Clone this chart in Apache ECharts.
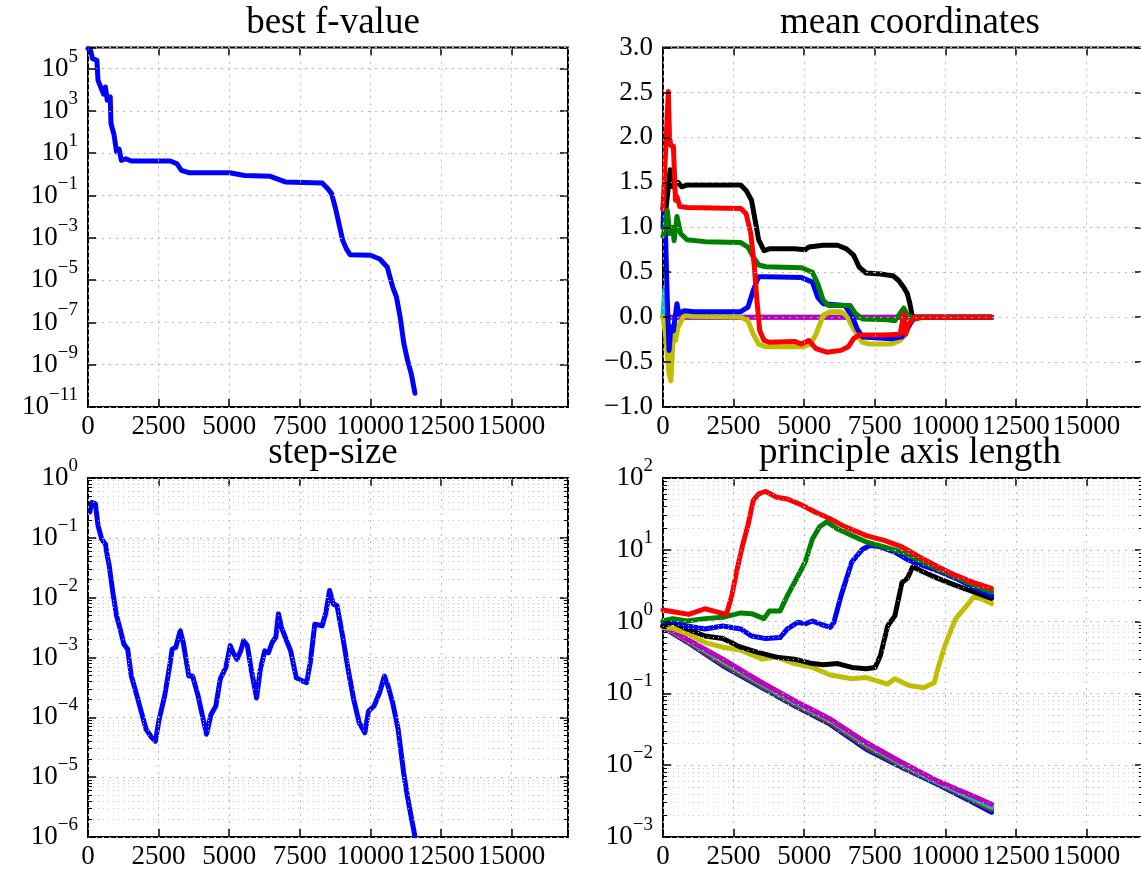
<!DOCTYPE html>
<html><head><meta charset="utf-8">
<script src="https://cdn.jsdelivr.net/npm/echarts@6/dist/echarts.min.js"></script>
<style>html,body{margin:0;padding:0;background:#fff}#c{width:1141px;height:873px}</style>
</head><body><div id="c"></div>
<script>
// ---------------- DATA ----------------
const titles = ['best f-value', 'mean coordinates', 'step-size', 'principle axis length'];
const xTickLabels = ['0', '2500', '5000', '7500', '10000', '12500', '15000'];

// best f-value  [evaluations, f]
const bestF = [[0,8.9e5],[92,7.4e5],[158,3.0e5],[315,2.5e5],[354,2.8e4],[551,6.3e3],[617,1.35e4],[682,3.2e3],[787,4.6e3],[814,2.5e2],[919,79],[1011,11.5],[1102,15.8],[1181,4.6],[1339,5.5],[1536,4.3],[2914,4.3],[3150,3.2],[3308,1.55],[3570,1.2],[5014,1.2],[5540,0.89],[6459,0.81],[6984,0.44],[8297,0.39],[8494,0.21],[8626,0.123],[8757,2.8e-2],[8888,4.7e-3],[9020,7.6e-4],[9151,3.0e-4],[9282,1.6e-4],[10004,1.5e-4],[10333,1.0e-4],[10596,4.2e-5],[10793,4.7e-6],[10924,1.6e-6],[11055,1.8e-7],[11187,1.0e-8],[11318,1.6e-9],[11449,3.7e-10],[11580,4.5e-11]];

// mean coordinates
const meanCyan = [[0,0],[60,0.3],[120,0],[11637,0]];
const meanMagenta = [[0,0],[100,-0.05],[200,0],[11637,0]];
const meanYellow = [[0,0],[89,-0.19],[216,-0.63],[279,-0.71],[368,-0.19],[444,-0.26],[533,-0.11],[749,0.02],[1003,0.01],[2754,0],[3008,-0.04],[3198,-0.19],[3388,-0.3],[3642,-0.33],[4911,-0.33],[5229,-0.3],[5419,-0.19],[5672,0.02],[5926,0.06],[6307,0.06],[6497,0.02],[6751,-0.13],[7068,-0.28],[7322,-0.3],[8084,-0.3],[8401,-0.26],[8592,-0.19],[8782,-0.04],[8972,0],[11637,0]];
const meanBlack = [[0,1.2],[25,1.3],[89,1.15],[190,1.45],[254,1.64],[343,1.45],[533,1.5],[660,1.45],[850,1.47],[2754,1.47],[2944,1.41],[3135,1.3],[3262,1.08],[3388,0.86],[3579,0.74],[3769,0.76],[4657,0.76],[5038,0.75],[5165,0.78],[5672,0.8],[6180,0.8],[6497,0.76],[6751,0.69],[6942,0.56],[7195,0.49],[7703,0.48],[8147,0.46],[8338,0.41],[8528,0.33],[8655,0.26],[8744,0.15],[8820,0.02],[8909,0],[11637,0]];
const meanBlue = [[0,1.0],[25,1.23],[89,0.93],[152,0.19],[216,-0.37],[279,-0.11],[368,-0.15],[495,0.15],[559,0.04],[749,0.07],[1104,0.06],[2754,0.06],[3008,0.11],[3198,0.3],[3388,0.45],[3642,0.45],[4911,0.44],[5292,0.39],[5482,0.22],[5672,0.15],[6434,0.13],[6688,0.02],[6878,-0.13],[7068,-0.22],[8084,-0.24],[8465,-0.22],[8655,-0.13],[8846,-0.03],[9036,0],[11637,0]];
const meanGreen = [[0,0.9],[25,0.93],[152,1.19],[241,0.93],[343,1.0],[393,0.85],[495,1.12],[622,0.93],[850,0.86],[1485,0.84],[2754,0.83],[3008,0.78],[3198,0.67],[3388,0.58],[3642,0.56],[4911,0.55],[5292,0.5],[5482,0.37],[5672,0.19],[5863,0.13],[6434,0.13],[6624,0.13],[6815,0.04],[7068,-0.02],[7957,-0.03],[8211,-0.04],[8528,0.1],[8655,0.02],[8972,-0.02],[9226,0],[11637,0]];
const meanRed = [[0,1.2],[100,1.9],[190,2.51],[230,2.0],[279,1.91],[368,1.9],[444,1.3],[495,1.34],[596,1.23],[850,1.22],[2754,1.21],[2944,1.15],[3109,0.93],[3236,0.56],[3325,0.19],[3426,-0.15],[3579,-0.26],[3769,-0.28],[4657,-0.27],[4911,-0.3],[5165,-0.26],[5419,-0.35],[5799,-0.39],[6307,-0.37],[6561,-0.33],[6751,-0.24],[6942,-0.2],[7830,-0.2],[8401,-0.19],[8528,0.04],[8592,-0.19],[8719,-0.07],[8909,0],[11637,0]];

// step-size
const stepX = [66,131,262,354,486,617,682,748,879,1010,1142,1273,1404,1535,1732,1929,2060,2257,2388,2520,2717,2913,2979,3110,3268,3373,3570,3701,3898,4068,4199,4357,4528,4685,4882,5039,5144,5276,5407,5512,5643,5801,5971,6102,6260,6391,6522,6654,6745,6850,6981,7178,7375,7572,7743,7874,8031,8294,8425,8556,8688,8819,9016,9213,9409,9606,9803,9934,10131,10328,10499,10630,10787,10984,11181,11312,11444,11575];
const stepVal = [0.27,0.39,0.37,0.16,0.095,0.079,0.05,0.035,0.0123,5.0e-3,2.95e-3,1.66e-3,1.38e-3,4.9e-4,2.3e-4,1.05e-4,6.3e-5,4.6e-5,4.0e-5,9.3e-5,2.3e-4,8.3e-4,1.38e-3,1.48e-3,2.8e-3,1.78e-3,4.9e-4,4.9e-4,2.3e-4,9.8e-5,5.2e-5,1.12e-4,1.55e-4,4.4e-4,6.8e-4,1.58e-3,1.2e-3,9.3e-4,1.29e-3,1.9e-3,1.58e-3,5.6e-4,2.1e-4,6.3e-4,1.29e-3,1.2e-3,1.78e-3,2.2e-3,5.4e-3,3.2e-3,2.2e-3,1.29e-3,4.6e-4,4.1e-4,3.8e-4,8.3e-4,3.6e-3,3.4e-3,5.6e-3,1.32e-2,7.8e-3,7.4e-3,2.3e-3,6.3e-4,2.0e-4,8.1e-5,5.5e-5,1.26e-4,1.55e-4,2.6e-4,4.9e-4,3.3e-4,1.78e-4,6.3e-5,1.17e-5,4.8e-6,2.2e-6,1.05e-6];

// principle axis lengths
const axSmallX = [0,850,2119,3388,4657,5926,7195,8464,9734,11003,11637];
const axSmallBlue = [0.83,0.52,0.243,0.128,0.067,0.037,0.0167,0.0093,0.0054,0.0030,0.0022];
const axSmallGreen = [0.85,0.535,0.255,0.133,0.070,0.039,0.0178,0.0097,0.0056,0.0032,0.0024];
const axSmallRed = [0.86,0.545,0.265,0.138,0.073,0.040,0.0187,0.0101,0.0057,0.0033,0.0025];
const axSmallCyan = [0.87,0.555,0.28,0.143,0.075,0.042,0.0195,0.0104,0.0058,0.0034,0.0026];
const axSmallMagenta = [0.88,0.57,0.30,0.150,0.079,0.044,0.0207,0.0109,0.0060,0.0037,0.00286];
const axYellow = [[0,0.83],[343,0.81],[850,0.68],[1485,0.51],[2119,0.44],[2754,0.40],[3515,0.30],[4023,0.32],[4657,0.26],[5292,0.23],[5926,0.18],[6688,0.16],[7195,0.166],[7957,0.135],[8211,0.16],[8718,0.129],[9226,0.12],[9607,0.141],[9734,0.22],[9988,0.47],[10368,1.1],[10749,1.66],[11003,2.2],[11256,2.1],[11637,1.78]];
const axBlack = [[0,0.87],[343,0.98],[850,0.79],[1485,0.63],[2119,0.58],[2754,0.44],[3388,0.37],[4023,0.32],[4657,0.30],[5292,0.26],[5673,0.25],[6180,0.26],[6688,0.23],[7195,0.22],[7513,0.23],[7703,0.34],[7957,0.87],[8211,1.2],[8464,3.5],[8655,4.0],[8845,5.8],[9226,4.9],[9734,4.0],[10368,3.2],[11003,2.6],[11637,2.1]];
const axBlue = [[0,0.98],[343,1.02],[850,0.87],[1485,0.79],[2119,0.87],[2754,0.79],[3135,0.63],[3642,0.58],[4150,0.6],[4404,0.79],[4784,0.98],[5038,0.93],[5292,1.02],[5546,0.93],[5926,0.83],[6053,0.98],[6307,2.3],[6688,6.8],[7069,10.2],[7322,11.5],[7703,11],[8211,9.3],[8718,7.1],[9226,6.0],[9734,5.1],[10368,4.0],[11003,3.0],[11637,2.3]];
const axGreen = [[0,1.02],[343,1.1],[850,1.02],[1485,1.1],[2119,1.15],[2754,1.32],[3135,1.29],[3579,1.1],[3769,1.41],[4150,1.41],[4404,2.3],[4657,3.5],[5038,6.8],[5292,14.1],[5546,20.9],[5800,24.5],[6180,19.5],[6688,15.8],[7195,12.9],[7830,11],[8464,9.3],[9099,7.1],[9734,5.4],[10368,4.2],[11003,3.2],[11637,2.6]];
const axRed = [[0,1.45],[470,1.35],[914,1.26],[1485,1.51],[1865,1.38],[2246,1.26],[2437,2.3],[2627,5.4],[2817,11.5],[3008,21.9],[3198,49],[3388,60],[3642,65],[4023,54],[4404,51],[4911,42],[5419,33],[5926,27],[6434,21],[7195,15.8],[7830,13.5],[8464,11],[9099,7.9],[9734,5.8],[10368,4.4],[11003,3.5],[11637,2.9]];

// ---------------- CHART ----------------
const SERIF = '"Liberation Serif", "DejaVu Serif", serif';
const C = {b:'#0000ff', g:'#008000', r:'#ff0000', c:'#00bfbf', m:'#bf00bf', y:'#bfbf00', k:'#000000'};
const grids = [
  {left:88, top:47.5, width:480, height:359.5},
  {left:663, top:47.5, width:480, height:359.5},
  {left:88, top:478, width:480, height:359},
  {left:663, top:478, width:480, height:359}
].map(g => Object.assign({show:true, borderColor:'#000', borderWidth:2, backgroundColor:'transparent',
  containLabel:false, outerBoundsMode:'none'}, g));

const titleCenters = [328, 905, 328, 905];
const titleTops = [0, 0, 430, 430];

const gridLine = {show:true, lineStyle:{color:'#b8b8b8', type:[2,5], width:1}};
const tickStyle = {color:'#000', width:1.5};
const labelBase = {color:'#000', fontFamily:SERIF, fontSize:27};
const noLine = {show:false, onZero:false};

function logLabel(show) {
  return Object.assign({}, labelBase, {
    margin: 10,
    formatter: v => {
      const e = Math.round(v);
      if (!show(e) || Math.abs(v - e) > 1e-6) return '';
      return '{b|10}{s|' + (e < 0 ? '\u2212' : '') + Math.abs(e) + '}';
    },
    rich: {
      b: {fontFamily:SERIF, fontSize:27, color:'#000', padding:[8,0,8,0]},
      s: {fontFamily:SERIF, fontSize:19, color:'#000', verticalAlign:'top'}
    }
  });
}
function minorLogs(lo, hi) {
  const out = [];
  for (let n = lo; n < hi; n++) for (let k = 2; k <= 9; k++) out.push(Math.log10(k * Math.pow(10, n)));
  return out;
}

const xAxis = [], yAxis = [];
const xMain = [], yMain = [];
for (let gi = 0; gi < 4; gi++) {
  xMain.push(xAxis.length);
  xAxis.push({type:'value', gridIndex:gi, position:'bottom', min:0, max:17000, interval:2500, z:3,
    axisLine:noLine, axisTick:{inside:true, length:8, lineStyle:tickStyle},
    axisLabel:Object.assign({}, labelBase, {margin:6, formatter: v => { const i = Math.round(v/2500); return (v % 2500 === 0 && i < xTickLabels.length) ? xTickLabels[i] : ''; }}),
    splitLine:gridLine});
  xAxis.push({type:'value', gridIndex:gi, position:'top', min:0, max:17000, interval:2500,
    axisLine:noLine, axisTick:{inside:true, length:8, lineStyle:tickStyle},
    axisLabel:{show:false}, splitLine:{show:false}});
}
const yCfg = [
  {min:-11, max:6, interval:2, label:logLabel(e => e <= 5), minor:null},
  {min:-1, max:3, interval:0.5, label:Object.assign({}, labelBase, {margin:10, formatter: v => (v < 0 ? '\u2212' : '') + Math.abs(v).toFixed(1)}), minor:null},
  {min:-6, max:0, interval:1, label:logLabel(e => true), minor:minorLogs(-6, 0)},
  {min:-3, max:2, interval:1, label:logLabel(e => true), minor:minorLogs(-3, 2)}
];
yCfg.forEach((c, gi) => {
  yMain.push(yAxis.length);
  yAxis.push({type:'value', gridIndex:gi, position:'left', min:c.min, max:c.max, interval:c.interval, z:3,
    axisLine:noLine, axisTick:{inside:true, length:8, lineStyle:tickStyle},
    axisLabel:c.label, splitLine:gridLine});
  yAxis.push({type:'value', gridIndex:gi, position:'right', min:c.min, max:c.max, interval:c.interval,
    axisLine:noLine, axisTick:{inside:true, length:8, lineStyle:tickStyle},
    axisLabel:{show:false}, splitLine:{show:false}});
  if (c.minor) {
    yAxis.push({type:'value', gridIndex:gi, position:'left', min:c.min, max:c.max, z:3,
      axisLine:noLine, axisLabel:{show:false},
      axisTick:{show:true, inside:true, length:4, lineStyle:{color:'#000', width:1}, customValues:c.minor},
      splitLine:{show:true, lineStyle:{color:'#c8c8c8', type:[1,4], width:1}}});
    yAxis.push({type:'value', gridIndex:gi, position:'right', min:c.min, max:c.max,
      axisLine:noLine, axisLabel:{show:false},
      axisTick:{show:true, inside:true, length:4, lineStyle:{color:'#000', width:1}, customValues:c.minor},
      splitLine:{show:false}});
  }
});

const series = [];
function addLine(gi, data, color, isLog) {
  series.push({type:'line', xAxisIndex:xMain[gi], yAxisIndex:yMain[gi], showSymbol:false, silent:true, z:2,
    data: data.map(p => [p[0], isLog ? Math.log10(p[1]) : p[1]]),
    lineStyle:{color:color, width:5, join:'round', cap:'round'}, itemStyle:{color:color}});
}
addLine(0, bestF, C.b, true);
[[meanCyan,C.c],[meanMagenta,C.m],[meanYellow,C.y],[meanBlack,C.k],[meanBlue,C.b],[meanGreen,C.g],[meanRed,C.r]]
  .forEach(s => addLine(1, s[0], s[1], false));
addLine(2, stepX.map((x, i) => [x, stepVal[i]]), C.b, true);
[[axSmallBlue,C.b],[axSmallGreen,C.g],[axSmallRed,C.r],[axSmallCyan,C.c],[axSmallMagenta,C.m]]
  .forEach(s => addLine(3, axSmallX.map((x, i) => [x, s[0][i]]), s[1], true));
[[axYellow,C.y],[axBlack,C.k],[axBlue,C.b],[axGreen,C.g],[axRed,C.r]]
  .forEach(s => addLine(3, s[0], s[1], true));

const option = {
  animation:false,
  backgroundColor:'#fff',
  title: titles.map((t, i) => ({text:t, left:titleCenters[i], top:titleTops[i], textAlign:'center',
    textStyle:{fontFamily:SERIF, fontSize:37, fontWeight:'normal', color:'#000'}})),
  grid: grids,
  xAxis: xAxis,
  yAxis: yAxis,
  series: series
};
const chart = echarts.init(document.getElementById('c'), null, {renderer:'canvas'});
chart.setOption(option);
</script>
</body></html>
